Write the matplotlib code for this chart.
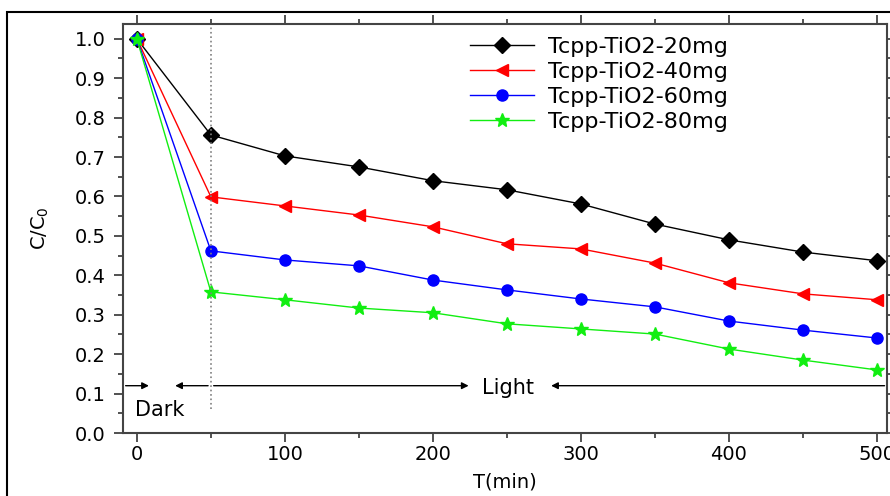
import numpy as np
import matplotlib.pyplot as plt
from matplotlib.patches import Rectangle

plt.rcParams.update({
    "font.family": ["DejaVu Sans"],
    "font.size": 14,
})

# ── Data ─────────────────────────────────────────────────────────────────────
t = [0, 50, 100, 150, 200, 250, 300, 350, 400, 450, 500]
c20 = [1.0, 0.756, 0.703, 0.675, 0.640, 0.617, 0.581, 0.530, 0.490, 0.459, 0.437]
c40 = [1.0, 0.599, 0.576, 0.553, 0.523, 0.480, 0.467, 0.431, 0.381, 0.353, 0.338]
c60 = [1.0, 0.462, 0.439, 0.424, 0.388, 0.363, 0.340, 0.320, 0.284, 0.261, 0.241]
c80 = [1.0, 0.358, 0.338, 0.317, 0.305, 0.277, 0.264, 0.251, 0.213, 0.185, 0.160]
labels = ["Tcpp-TiO2-20mg", "Tcpp-TiO2-40mg", "Tcpp-TiO2-60mg", "Tcpp-TiO2-80mg"]

fig = plt.figure(figsize=(8.9, 4.96), dpi=100)
ax = fig.add_axes([0.138, 0.127, 0.859, 0.825])

# outer frame around the picture
fig.patches.append(Rectangle((0.008, -0.05), 1.05, 1.026, transform=fig.transFigure,
                             fill=False, edgecolor="black", linewidth=1.5))

ax.plot(t, c20, "-D", color="black", lw=1, ms=8, label=labels[0])
ax.plot(t, c40, "-<", color="red", lw=1, ms=9, label=labels[1])
ax.plot(t, c60, "-o", color="blue", lw=1, ms=8, label=labels[2])
ax.plot(t, c80, "-*", color="#11ee11", lw=1, ms=10, label=labels[3])

ax.set_xlim(-9.5, 507)
ax.set_ylim(0, 1.038)
ax.set_xticks(np.arange(0, 501, 100))
ax.set_xticks(np.arange(0, 501, 50), minor=True)
ax.set_yticks(np.arange(0, 1.01, 0.1))
ax.set_yticks(np.arange(0, 1.01, 0.05), minor=True)
ax.tick_params(which="both", width=1.2, color="#333333",
               top=True, right=True)
ax.xaxis.set_tick_params(which="both", direction="out")
ax.yaxis.set_tick_params(which="both", direction="out")
ax.tick_params(which="major", length=6.5, labelsize=14, pad=6)
ax.tick_params(which="minor", length=3.5)
ax.tick_params(axis="x", which="major", pad=2)
for s in ax.spines.values():
    s.set_linewidth(1.5)
    s.set_color("#444444")

ax.set_xlabel("T(min)", fontsize=14, labelpad=6)
ax.set_ylabel("C/C$_0$", fontsize=14, labelpad=17)

# dark / light annotation
ax.axvline(50, ymin=0.06 / 1.038, ymax=1, color="gray", ls=":", lw=1.2)
ya = 0.12
arrow = dict(arrowstyle="-|>", color="black", lw=1, mutation_scale=10)
ax.annotate("", xy=(10, ya), xytext=(-9.5, ya), arrowprops=arrow)
ax.annotate("", xy=(24, ya), xytext=(50, ya), arrowprops=arrow)
ax.annotate("", xy=(226, ya), xytext=(50, ya), arrowprops=arrow)
ax.annotate("", xy=(278, ya), xytext=(507, ya), arrowprops=arrow)
ax.text(251, ya - 0.005, "Light", ha="center", va="center", fontsize=15)
ax.text(-1, 0.058, "Dark", ha="left", va="center", fontsize=15)

ax.legend(loc="upper left", bbox_to_anchor=(0.454, 0.968), frameon=False,
          borderpad=0, borderaxespad=0,
          fontsize=16, handlelength=2.9, handletextpad=0.6, labelspacing=0.23)

fig.savefig("out.png", dpi=100)
